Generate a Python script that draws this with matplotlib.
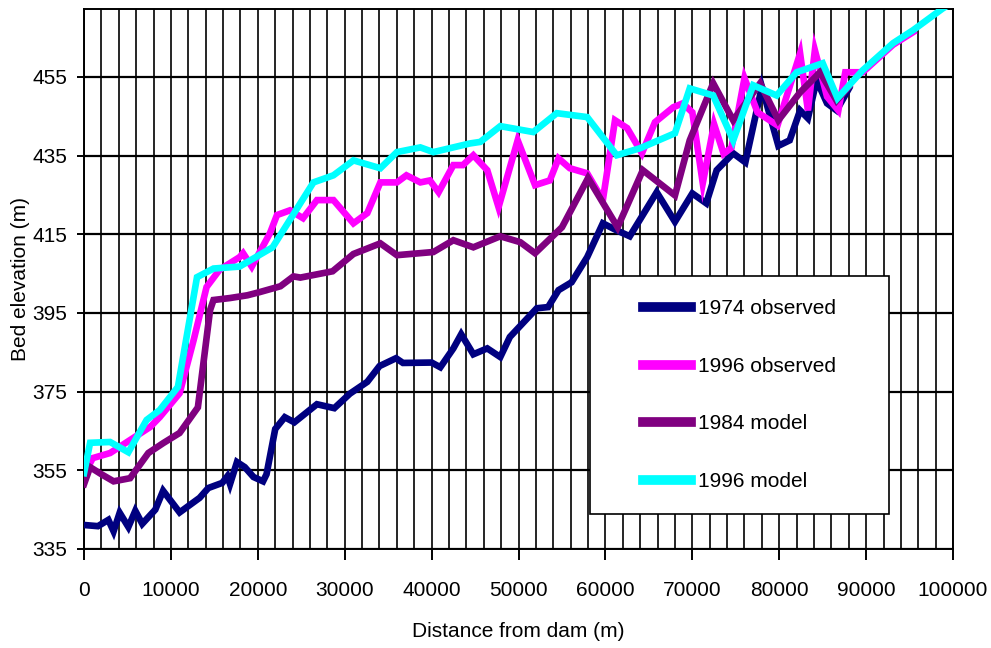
import matplotlib
matplotlib.use("Agg")
import matplotlib.pyplot as plt
from matplotlib.patches import Rectangle

plt.rcParams["font.family"] = ["Liberation Sans Narrow", "Liberation Sans", "DejaVu Sans"]

# 1974 observed
obs74_x = [0, 1600, 2800, 3400, 4100, 5100, 5900, 6700, 8200, 9100, 11000, 13300,
           14300, 15900, 16500, 16800, 17600, 18500, 19500, 20600, 21000, 22000,
           23100, 24200, 26800, 28800, 30600, 32600, 34000, 35900, 36700, 40000,
           41000, 42500, 43400, 44800, 46400, 47900, 49000, 52100, 53400, 54600,
           56100, 57900, 59700, 61300, 62800, 65900, 68000, 70000, 71600, 72800,
           74700, 76100, 78000, 79900, 81200, 82400, 83300, 84300, 85500, 86600, 88000]
obs74_y = [341.1, 340.8, 342.4, 339.5, 344.2, 340.6, 344.7, 341.4, 345.0, 349.8, 344.3, 348.0,
           350.5, 351.8, 353.5, 351.5, 357.1, 355.8, 353.3, 352.2, 354.0, 365.5,
           368.5, 367.2, 371.8, 370.8, 374.5, 377.5, 381.5, 383.5, 382.3, 382.4,
           381.2, 386.0, 389.6, 384.5, 386.0, 383.8, 388.9, 396.2, 396.5, 400.8,
           402.8, 409.2, 417.8, 416.0, 414.5, 425.7, 418.2, 425.4, 422.9, 431.3,
           435.6, 433.3, 452.5, 437.5, 438.9, 446.5, 444.5, 454.2, 448.3, 446.5, 452.0]

# 1996 observed
obs96_x = [0, 300, 1000, 3000, 5300, 7600, 8700, 11000, 12600, 14100, 15600, 17900,
           18300, 19300, 21400, 22200, 23700, 25200, 26800, 28700, 31000, 32600,
           34100, 36000, 37100, 38700, 39800, 40800, 42500, 43600, 44800, 46400,
           47700, 49900, 51900, 53600, 54600, 55900, 57900, 59700, 61100, 62500,
           64200, 65700, 67800, 68900, 70000, 71200, 72500, 73600, 74500, 76000,
           77500, 79800, 82400, 83300, 84100, 85500, 86800, 87600, 89600, 93100,
           95400]
obs96_y = [354.5, 355.1, 358.1, 359.4, 362.7, 366.0, 368.5, 374.6, 388.0, 401.6, 406.0, 409.2,
           410.2, 406.8, 415.3, 419.9, 421.1, 419.1, 423.7, 423.7, 417.8, 420.4,
           428.2, 428.2, 430.0, 428.2, 428.7, 425.7, 432.6, 432.6, 435.1, 431.3,
           421.9, 438.9, 427.5, 428.7, 434.3, 431.8, 430.5, 423.7, 444.0, 442.0,
           435.6, 443.5, 447.3, 448.3, 446.0, 428.0, 443.0, 435.5, 437.0, 454.7,
           446.0, 442.7, 461.0, 446.5, 461.8, 450.0, 446.5, 456.2, 456.2, 463.2,
           466.4]

# 1984 model
mod84_x = [0, 700, 2000, 3400, 5300, 7400, 9100, 11000, 13100, 14500, 14900, 16800,
           18800, 20200, 22600, 24100, 24900, 28600, 31000, 34100, 36000, 40200,
           42500, 44800, 47900, 50200, 51900, 55000, 58000, 61400, 64300, 68000,
           69700, 72400, 74700, 77800, 79900, 82400, 84700, 86600, 88000]
mod84_y = [351.5, 355.8, 354.0, 352.2, 353.0, 359.4, 361.9, 364.5, 371.0, 395.7, 398.3, 398.8,
           399.5, 400.3, 401.8, 404.3, 404.0, 405.6, 410.0, 412.7, 409.7, 410.5,
           413.5, 411.7, 414.5, 413.0, 410.2, 416.8, 429.3, 416.8, 431.3, 424.9,
           438.9, 453.4, 444.0, 453.4, 444.0, 451.1, 456.2, 449.0, 452.5]

# 1996 model
mod96_x = [0, 700, 3000, 5100, 7200, 8700, 10800, 13000, 14900, 17900, 21700, 26400,
           28700, 31000, 34100, 36000, 38700, 40200, 44400, 45600, 47900, 51700,
           54400, 57900, 61300, 64000, 68000, 69700, 72400, 74700, 77000, 79700,
           82000, 85000, 86700, 89600, 93100, 95400, 98800, 100000]
mod96_y = [354.3, 362.0, 362.2, 359.6, 367.8, 370.3, 376.2, 404.1, 406.3, 406.8, 411.7, 428.2,
           430.0, 433.8, 431.8, 435.9, 437.1, 435.9, 438.1, 438.5, 442.5, 441.0,
           445.8, 444.8, 435.1, 436.9, 440.7, 452.1, 450.3, 438.9, 452.9, 450.3,
           456.2, 458.5, 449.6, 456.7, 463.6, 466.9, 472.4, 474.0]

series = [
    (obs74_x, obs74_y, "1974 observed", "#000080"),
    (obs96_x, obs96_y, "1996 observed", "#FF00FF"),
    (mod84_x, mod84_y, "1984 model", "#800080"),
    (mod96_x, mod96_y, "1996 model", "#00FFFF"),
]

fig = plt.figure(figsize=(9.91, 6.48), dpi=100)
ax = fig.add_axes([0.0848, 0.1528, 0.8769, 0.8328])

for xs, ys, label, color in series:
    ax.plot(xs, ys, color=color, lw=4.8, label=label, solid_joinstyle="miter", zorder=3)

ax.set_xlim(0, 100000)
ax.set_ylim(335, 472.2)
ax.set_xticks(range(0, 100001, 10000))
ax.set_xticks(range(0, 100001, 2000), minor=True)
ax.set_yticks(range(335, 456, 20))
ax.grid(True, which="major", axis="y", color="black", lw=1.6)
ax.grid(True, which="both", axis="x", color="black", lw=1.2)
ax.set_axisbelow(True)
ax.tick_params(axis="x", which="minor", length=0)
ax.tick_params(axis="x", which="major", direction="out", length=8, width=1.4,
               labelsize=15, pad=15)
ax.tick_params(axis="y", direction="out", length=5, width=1.4, labelsize=15, pad=7)
for sp in ax.spines.values():
    sp.set_linewidth(1.4)

ax.set_xlabel("Distance from dam (m)", fontsize=15)
ax.set_ylabel("Bed elevation (m)", fontsize=15)
ax.xaxis.set_label_coords(0.5, -0.135)
ax.yaxis.set_label_coords(-0.062, 0.5)

# legend box
ax.add_patch(Rectangle((0.582, 0.065), 0.344, 0.44, transform=ax.transAxes,
                       facecolor="white", edgecolor="black", lw=1.2, zorder=4))
leg = ax.legend(loc="center", bbox_to_anchor=(0.7543, 0.285), frameon=False,
                fontsize=15, handlelength=2.3, handletextpad=0.3, labelspacing=1.85)
for line in leg.get_lines():
    line.set_linewidth(7)
leg.set_zorder(5)

fig.savefig("out.png", dpi=100)
